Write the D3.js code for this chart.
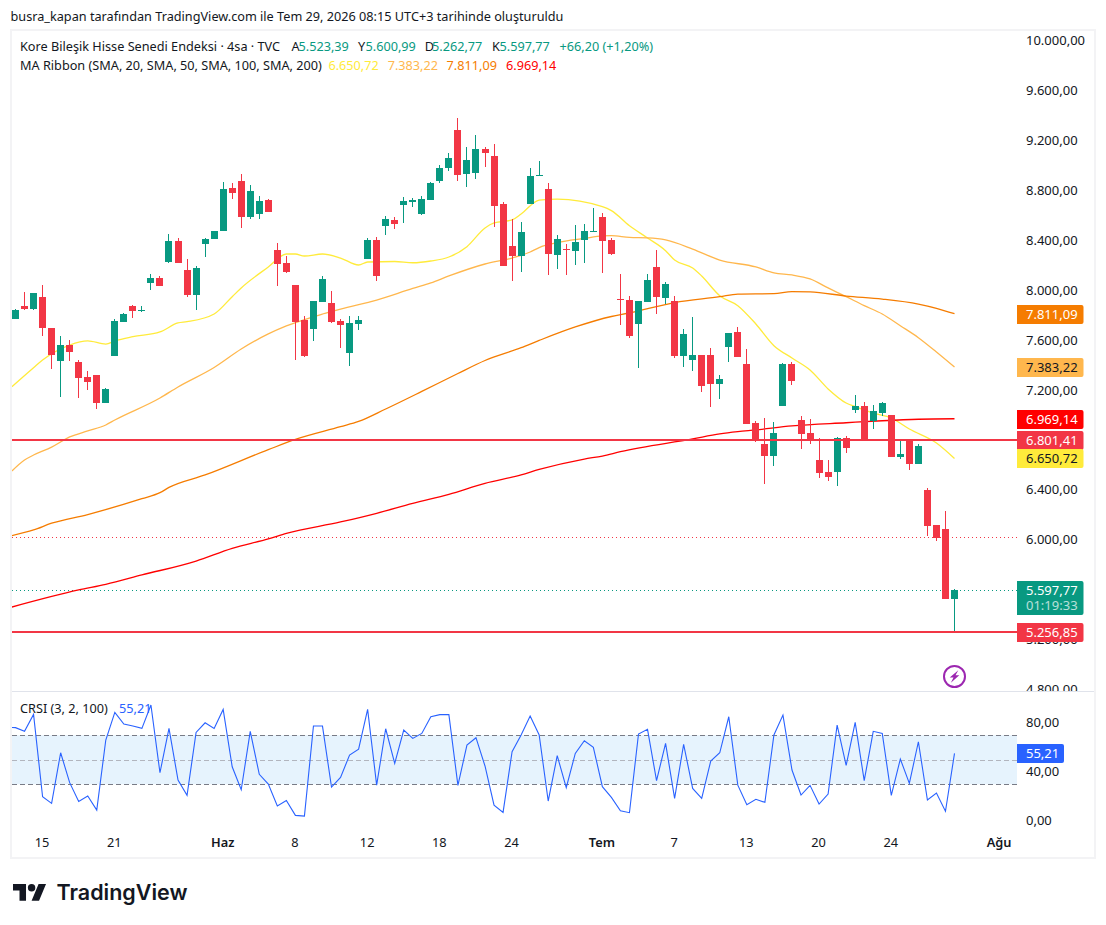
<!DOCTYPE html>
<html><head><meta charset="utf-8">
<script src="https://cdn.jsdelivr.net/npm/d3@7/dist/d3.min.js"></script>
<style>html,body{margin:0;padding:0;background:#fff}svg{display:block}text{font-family:"Noto Sans",sans-serif;fill:#131722}</style>
</head><body><svg id="c" width="1106" height="925"></svg>
<script>
const opens=[7769,7873,7849,7945,7697,7432,7561,7424,7304,7320,7095,7472,7745,7873,7833,8058,8098,8226,8394,8162,7961,8370,8410,8475,8820,8876,8587,8611,8723,8322,8218,8042,7761,7689,7905,7897,7753,7496,7729,8250,8403,8515,8563,8683,8707,8611,8723,8876,8980,9285,8932,8940,9132,9076,8691,8354,8274,8691,8916,8811,8282,8330,8314,8403,8467,8587,8403,7929,7921,7729,7905,8186,7937,7913,7472,7440,7480,7480,7248,7545,7665,7408,6935,6767,6671,7071,7408,6959,6855,6638,6542,6542,6815,7039,7071,6951,7015,6999,6663,6799,6606,6397,6117,6085,5523.39];
const closes=[7841,7849,7977,7697,7480,7561,7504,7296,7264,7095,7208,7753,7809,7833,7841,8098,8034,8394,8218,7961,8178,8410,8475,8811,8779,8587,8795,8715,8627,8210,8146,7745,7472,7913,8090,7745,7721,7737,7761,8403,8114,8571,8531,8715,8723,8731,8860,8980,9060,8924,9044,9132,9100,8675,8194,8274,8467,8916,8924,8290,8410,8322,8387,8475,8475,8394,8290,7921,7633,7913,8082,7945,8050,7472,7649,7480,7232,7248,7288,7657,7464,6927,6791,6671,6855,7408,7272,6847,6799,6534,6502,6815,6735,7071,6799,7031,7095,6663,6687,6606,6751,6109,6012,5523,5597.77];
const highs=[7849,7986,7977,8042,7697,7633,7601,7440,7352,7320,7216,7769,7817,7881,7873,8130,8114,8451,8419,8250,8194,8419,8475,8868,8860,8932,8844,8755,8731,8378,8274,8042,7793,7913,8114,7994,7769,7793,7793,8419,8427,8595,8587,8747,8739,8755,8868,9004,9100,9381,9148,9245,9148,9172,8707,8571,8547,8980,9036,8860,8443,8370,8523,8531,8659,8619,8419,8130,7953,7913,8130,8322,8066,7953,7689,7785,7480,7537,7320,7657,7705,7529,6951,6975,6943,7416,7424,6991,6967,6815,6638,6823,6831,7160,7104,7080,7104,6999,6791,6799,6767,6413,6117,6229,5600.99];
const lows=[7769,7841,7841,7633,7368,7144,7432,7135,7200,7047,7095,7472,7745,7777,7825,8002,8034,8218,8218,7945,7841,8266,8410,8475,8731,8499,8571,8571,8627,8034,8138,7440,7464,7593,7905,7737,7537,7392,7681,8250,8074,8443,8491,8539,8667,8603,8723,8860,8956,8876,8828,8892,8988,8507,8194,8074,8146,8691,8916,8122,8170,8122,8202,8218,8467,8138,8282,7721,7617,7376,7905,7809,7889,7456,7384,7352,7184,7063,7128,7424,7464,6927,6783,6446,6590,7071,7240,6727,6767,6494,6470,6430,6695,7015,6799,6887,6991,6663,6646,6558,6606,6028,5988,5523,5262.77];

const ma20At=[-0.4,2,3,6,8,10,11,13,16,18,19,22,24,25,28,30,31,32,34,36,38,39,42,44,46,48,50,52,53,55,56,58,60,65,66,68,70,72,73,75,76,78,80,82,84,86,88,90,92,93,95,97,99,102,104];
const ma20=[7226,7378,7440,7560,7593,7568,7593,7627,7665,7737,7747,7809,7948,8018,8186,8290,8290,8274,8290,8258,8202,8226,8230,8220,8234,8266,8349,8499,8539,8563,8611,8723,8731,8670,8638,8517,8419,8317,8242,8178,8114,7956,7876,7729,7555,7456,7360,7208,7095,7066,7015,6975,6887,6775,6650.72];
const ma50At=[-0.4,1,2,4,6,8,10,11,16,18,22,25,28,30,34,36,40,44,46,48,52,55,57,58,60,63,65,66,68,70,72,75,78,82,84,86,88,90,92,94,96,98,100,102,104];
const ma50=[6550,6638,6678,6742,6823,6871,6919,6959,7135,7224,7380,7528,7649,7713,7809,7849,7921,8014,8058,8114,8210,8258,8306,8342,8381,8415,8435,8437,8423,8419,8403,8330,8242,8186,8138,8122,8090,8018,7948,7876,7809,7715,7619,7504,7383.22];
const ma100At=[-0.4,2,4,8,14,16,17,21,28,31,36,38,41,45,49,52,56,58,62,66,68,73,78,80,84,86,88,92,96,100,102,104];
const ma100=[6031,6077,6131,6201,6328,6376,6418,6518,6721,6803,6905,6947,7047,7188,7332,7436,7539,7597,7705,7789,7817,7901,7948,7969,7972,7988,7986,7953,7929,7889,7855,7811.09];
const ma200At=[-0.4,7,10,14,20,24,28,30,36,40,44,48,52,56,58,63,65,67,75,78,80,82,86,92,96,100,104];
const ma200=[5459,5596,5641,5716,5828,5930,6005,6050,6141,6211,6291,6363,6451,6518,6562,6646,6670,6705,6807,6847,6865,6879,6911,6937,6953,6965,6969.14];

const crsiAt=d3.range(-1,105);
const crsi=[76.4,76.2,73.2,87.0,19.8,14.4,55.7,31.3,16.0,20.4,8.9,66.1,88.7,79.1,77.5,75.6,94.7,39.4,75.6,33.4,20.9,72.3,80.2,75.6,91.1,44.3,25.5,73.2,38.1,30.2,12.2,16.8,4.6,4.0,77.5,77.5,27.7,35.6,53.8,58.7,91.1,29.3,75.3,47.0,74.2,67.4,71.5,85.1,86.8,86.8,29.1,62.0,68.0,44.9,13.0,7.0,56.6,70.2,85.7,70.2,16.3,53.3,27.2,55.2,65.5,60.1,28.0,19.3,8.4,6.8,71.0,74.8,32.9,63.4,18.5,62.6,26.6,18.5,48.9,55.7,85.1,29.3,13.3,17.7,15.2,70.2,86.5,41.6,21.2,29.1,13.8,22.0,78.3,45.4,80.5,32.9,73.2,71.5,20.9,50.6,30.7,64.7,17.1,22.8,7.9,55.21];

const priceTicks=[10000,9600,9200,8800,8400,8000,7600,7200,6400,6000,5200,4800];
const crsiTicks=[80,40,0];
const crsiLevels=[70,50,30];
const timeAt=[3,11,23,31,39,47,55,65,73,81,89,97,109];
const timeLabels=["15","21","Haz","8","12","18","24","Tem","7","13","20","24","Ağu"];
const monthLabels=["Haz","Tem","Ağu"];
const levelLines=[6801.41,5256.85];
const dottedRed=6017, lastPrice=5597.77;
const maColors=["#ffeb3b","#ffb74d","#f57c00","#ff0000"];
const UP="#089981",DOWN="#f23645",BLUE="#2962ff";

const loc=d3.formatLocale({decimal:",",thousands:".",grouping:[3],currency:["",""]});
const fmt=loc.format(",.2f");
const FS=13;
const svg=d3.select("#c");
const x=d3.scaleLinear().domain([0,104]).range([15.5,954.5]);
const y=d3.scaleLinear().domain([4800,10000]).range([689.2,40.8]);
const yc=d3.scaleLinear().domain([0,100]).range([821,698.5]);

const defs=svg.append("defs");
defs.append("clipPath").attr("id","pane").append("rect").attr("x",12).attr("y",31).attr("width",1005).attr("height",660);
defs.append("clipPath").attr("id","sub").append("rect").attr("x",12).attr("y",692).attr("width",1005).attr("height",166);
defs.append("clipPath").attr("id","axisClip").append("rect").attr("x",1017).attr("y",31).attr("width",77).attr("height",660);

// frame
svg.append("rect").attr("x",11).attr("y",30).attr("width",1084).attr("height",828).attr("fill","none").attr("stroke","#f3f3f5").attr("stroke-width",2);
svg.append("line").attr("x1",12).attr("x2",1094).attr("y1",691.5).attr("y2",691.5).attr("stroke","#e0e3eb").attr("stroke-width",1);

svg.append("text").attr("x",10.5).attr("y",21).attr("font-size",12.7).text("busra_kapan tarafından TradingView.com ile Tem 29, 2026 08:15 UTC+3 tarihinde oluşturuldu");

const pane=svg.append("g").attr("clip-path","url(#pane)");
const sharp=v=>Math.round(v);

// dotted lines
[[dottedRed,DOWN],[lastPrice,UP]].forEach(([v,c])=>{
  pane.append("line").attr("x1",12).attr("x2",1017).attr("y1",sharp(y(v))+.5).attr("y2",sharp(y(v))+.5)
    .attr("stroke",c).attr("stroke-width",1).attr("stroke-dasharray","1 3");
});

// moving averages
const maLine=d3.line().x(d=>x(d[0])).y(d=>y(d[1])).curve(d3.curveMonotoneX);
[[ma20At,ma20],[ma50At,ma50],[ma100At,ma100],[ma200At,ma200]].forEach(([a,v],k)=>{
  pane.append("path").datum(a.map((t,i)=>[t,v[i]])).attr("d",maLine).attr("fill","none")
    .attr("stroke",maColors[k]).attr("stroke-width",1.3).attr("stroke-linejoin","round");
});

// candles
const candles=pane.append("g").attr("shape-rendering","crispEdges").selectAll("g").data(opens.map((o,i)=>({i,o,c:closes[i],h:highs[i],l:lows[i]}))).join("g");
const left=d=>Math.round(x(d.i)-3.5);
const col=d=>d.c>=d.o?UP:DOWN;
candles.append("rect").attr("x",d=>left(d)+3).attr("width",1).attr("y",d=>sharp(y(d.h))).attr("height",d=>Math.max(1,sharp(y(d.l))-sharp(y(d.h)))).attr("fill",col);
candles.append("rect").attr("x",left).attr("width",7).attr("y",d=>sharp(y(Math.max(d.o,d.c)))).attr("height",d=>Math.max(1,sharp(y(Math.min(d.o,d.c)))-sharp(y(Math.max(d.o,d.c))))).attr("fill",col);

// horizontal levels
pane.selectAll("line.lvl").data(levelLines).join("line").attr("class","lvl").attr("x1",12).attr("x2",1017)
  .attr("y1",d=>sharp(y(d))).attr("y2",d=>sharp(y(d))).attr("stroke",DOWN).attr("stroke-width",2);

// lightning icon
const ic=svg.append("g").attr("transform",`translate(${x(104)},676.5)`);
ic.append("circle").attr("r",10.5).attr("fill","#fff").attr("stroke","#9c27b0").attr("stroke-width",2);
ic.append("path").attr("d","M3.8,-6.2 L-4.8,1 L-1,1 L-3.6,6.2 L4.8,-1.2 L1,-1.2 Z").attr("fill","#9c27b0");

// price axis
const ax=svg.append("g").attr("clip-path","url(#axisClip)").append("g").attr("transform","translate(1026,0)")
  .call(d3.axisRight(y).tickValues(priceTicks).tickFormat(fmt).tickSize(0).tickPadding(0));
ax.select(".domain").remove();
ax.selectAll("text").attr("font-size",FS).attr("fill","#131722");
ax.attr("font-family",null);

// price tags
const tags=[[7811.09,"#f57c00","#fff"],[7383.22,"#ffb74d","#131722"],[6969.14,"#ff0000","#fff"],[6801.41,DOWN,"#fff"],[6650.72,"#ffeb3b","#131722"],[5256.85,DOWN,"#fff"]];
function tag(parent,v,cy,bg,fg,w){
  parent.append("path").attr("d",`M1017,${cy-9.5}h${w-2}q2,0 2,2v15q0,2 -2,2h-${w-2}z`).attr("fill",bg);
  parent.append("text").attr("x",1026).attr("y",cy).attr("dy",".36em").attr("font-size",FS).style("fill",fg).text(fmt(v));
}
const tg=svg.append("g");
tags.forEach(([v,bg,fg])=>tag(tg,v,Math.round(y(v))+.5,bg,fg,66.5));
// last price tag
const lp=Math.round(y(lastPrice));
tg.append("path").attr("d",`M1017,${lp-9}h64.5q2,0 2,2v30q0,2 -2,2h-64.5z`).attr("fill",UP);
tg.append("text").attr("x",1026).attr("y",lp).attr("dy",".36em").attr("font-size",FS).style("fill","#fff").text(fmt(lastPrice));
tg.append("text").attr("x",1026).attr("y",lp+15).attr("dy",".36em").attr("font-size",FS).style("fill","#fff").attr("opacity",.7).text("01:19:33");

// legend
const L1=46.5,L2=65.5,LF=12.7;
svg.append("text").attr("x",20).attr("y",L1).attr("dy",".35em").attr("font-size",LF).text("Kore Bileşik Hisse Senedi Endeksi · 4sa · TVC");
[["A",291.6,"5.523,39",298.5],["Y",358,"5.600,99",365.5],["D",424.8,"5.262,77",432],["K",492,"5.597,77",499.5]].forEach(([a,xa,b,xb])=>{
  svg.append("text").attr("x",xa).attr("y",L1).attr("dy",".35em").attr("font-size",LF).text(a);
  svg.append("text").attr("x",xb).attr("y",L1).attr("dy",".35em").attr("font-size",LF).style("fill",UP).text(b);
});
svg.append("text").attr("x",559.5).attr("y",L1).attr("dy",".35em").attr("font-size",LF).style("fill",UP).text("+66,20 (+1,20%)");
svg.append("text").attr("x",20).attr("y",L2).attr("dy",".35em").attr("font-size",LF).text("MA Ribbon (SMA, 20, SMA, 50, SMA, 100, SMA, 200)");
[[ma20,328.4],[ma50,387.7],[ma100,446.6],[ma200,506]].forEach(([m,xx],k)=>{
  svg.append("text").attr("x",xx).attr("y",L2).attr("dy",".35em").attr("font-size",LF).style("fill",maColors[k]).text(fmt(m[m.length-1]));
});

// CRSI pane
const sub=svg.append("g").attr("clip-path","url(#sub)");
sub.append("rect").attr("x",12).attr("width",1005).attr("y",yc(70)).attr("height",yc(30)-yc(70)).attr("fill","#e3f2fd").attr("opacity",.9);
sub.selectAll("line").data(crsiLevels).join("line").attr("x1",12).attr("x2",1017).attr("y1",d=>Math.round(yc(d))+.5).attr("y2",d=>Math.round(yc(d))+.5)
  .attr("stroke",d=>d===50?"#b2b5be":"#787b86").attr("stroke-dasharray","5 3");
sub.append("path").datum(crsiAt.map((t,i)=>[t,crsi[i]])).attr("d",d3.line().x(d=>x(d[0])).y(d=>yc(d[1]))).attr("fill","none").attr("stroke",BLUE).attr("stroke-width",1.1);

const cx=svg.append("g").attr("transform","translate(1026,-1)").call(d3.axisRight(yc).tickValues(crsiTicks).tickFormat(fmt).tickSize(0).tickPadding(0));
cx.select(".domain").remove(); cx.attr("font-family",null);
cx.selectAll("text").attr("font-size",FS).attr("fill","#131722");

const cLast=crsi[crsi.length-1];
const cyy=Math.round(yc(cLast))+.5;
svg.append("path").attr("d",`M1017,${cyy-9.5}h45q2,0 2,2v15q0,2 -2,2h-45z`).attr("fill",BLUE);
svg.append("text").attr("x",1026).attr("y",cyy).attr("dy",".36em").attr("font-size",FS).style("fill","#fff").text(fmt(cLast));

svg.append("text").attr("x",20).attr("y",708.5).attr("dy",".35em").attr("font-size",LF).text("CRSI (3, 2, 100)");
svg.append("text").attr("x",119).attr("y",708.5).attr("dy",".35em").attr("font-size",LF).style("fill",BLUE).text(fmt(cLast));

// time axis
const tx=svg.append("g").attr("transform","translate(-1,838)").call(d3.axisBottom(x).tickValues(timeAt).tickFormat((d,i)=>timeLabels[i]).tickSize(0).tickPadding(0));
tx.select(".domain").remove(); tx.attr("font-family",null);
tx.selectAll("text").attr("font-size",12.8).attr("fill","#131722").attr("font-weight",(d,i)=>monthLabels.includes(timeLabels[i])?600:400);

// logo
const lg=svg.append("g").attr("transform","translate(13,880.3) scale(.93)");
lg.append("path").attr("d","M14 22H7V11H0V4h14v18zM28 22h-8l7.5-18h8L28 22z").attr("fill","#131722");
lg.append("circle").attr("cx",20).attr("cy",8).attr("r",4).attr("fill","#131722");
svg.append("text").attr("x",56.5).attr("y",899.5).style("font-family","Inter,sans-serif").attr("font-size",21.5).attr("font-weight",600).text("TradingView");
</script></body></html>
